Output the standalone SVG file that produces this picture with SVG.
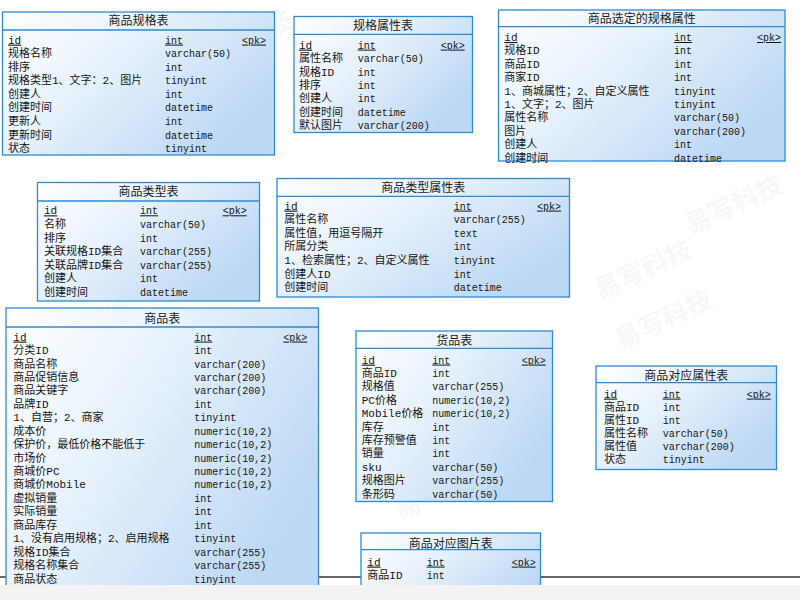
<svg xmlns="http://www.w3.org/2000/svg" width="800" height="600" viewBox="0 0 800 600">
<defs>
<linearGradient id="g" x1="0" y1="0" x2="1" y2="0.6">
<stop offset="0" stop-color="#ffffff"/>
<stop offset="0.45" stop-color="#e6f1fc"/>
<stop offset="1" stop-color="#bcd8f4"/>
</linearGradient>
</defs>
<style>
.box{fill:url(#g);stroke:#2d8bd6;stroke-width:1.3}
.sep{stroke:#2d8bd6;stroke-width:1.3}
.t{font-family:"Noto Sans CJK SC",sans-serif;font-size:12px;fill:#222;text-anchor:middle}
.n{font-family:"Liberation Mono","Noto Sans CJK SC",monospace;font-size:11px;fill:#151515}
.y{font-family:"Liberation Mono",monospace;font-size:10px;fill:#151515}
.u{text-decoration:underline}
.wm{font-family:"Noto Sans CJK SC",sans-serif;font-size:26px;font-weight:bold;fill:#000;opacity:0.028}
.conn{stroke:#333;stroke-width:1.5;fill:none}
</style>
<rect width="800" height="600" fill="#ffffff"/>
<g id="watermarks">
<text class="wm" transform="translate(40,360) rotate(-25)">易写科技</text>
<text class="wm" transform="translate(620,350) rotate(-25)">易写科技</text>
<text class="wm" transform="translate(690,235) rotate(-25)">易写科技</text>
<text class="wm" transform="translate(600,300) rotate(-25)">易写科技</text>
<text class="wm" transform="translate(400,520) rotate(-25)">易写科技</text>
<text class="wm" transform="translate(200,70) rotate(-25)">易写科技</text>
</g>
<g id="connectors">
<line class="conn" x1="0" y1="577" x2="800" y2="577"/>
</g>

<g id="t1">
<rect class="box" x="2.5" y="12" width="272" height="143"/>
<line class="sep" x1="2.5" y1="30" x2="274.5" y2="30"/>
<text class="t" x="138.5" y="25">商品规格表</text>
<text class="n u" x="8" y="43.6">id</text><text class="y u" x="165" y="43.6">int</text><text class="y u" x="242" y="43.6">&lt;pk&gt;</text>
<text class="n" x="8" y="57.2">规格名称</text><text class="y" x="165" y="57.2">varchar(50)</text>
<text class="n" x="8" y="70.7">排序</text><text class="y" x="165" y="70.7">int</text>
<text class="n" x="8" y="84.3">规格类型1、文字：2、图片</text><text class="y" x="165" y="84.3">tinyint</text>
<text class="n" x="8" y="97.8">创建人</text><text class="y" x="165" y="97.8">int</text>
<text class="n" x="8" y="111.4">创建时间</text><text class="y" x="165" y="111.4">datetime</text>
<text class="n" x="8" y="124.9">更新人</text><text class="y" x="165" y="124.9">int</text>
<text class="n" x="8" y="138.5">更新时间</text><text class="y" x="165" y="138.5">datetime</text>
<text class="n" x="8" y="152">状态</text><text class="y" x="165" y="152">tinyint</text>
</g>

<g id="t2">
<rect class="box" x="294" y="16.5" width="178.5" height="116"/>
<line class="sep" x1="294" y1="34.3" x2="472.5" y2="34.3"/>
<text class="t" x="383" y="29.5">规格属性表</text>
<text class="n u" x="299" y="48.6">id</text><text class="y u" x="357.7" y="48.6">int</text><text class="y u" x="440.7" y="48.6">&lt;pk&gt;</text>
<text class="n" x="299" y="62.1">属性名称</text><text class="y" x="357.7" y="62.1">varchar(50)</text>
<text class="n" x="299" y="75.5">规格ID</text><text class="y" x="357.7" y="75.5">int</text>
<text class="n" x="299" y="89">排序</text><text class="y" x="357.7" y="89">int</text>
<text class="n" x="299" y="102.4">创建人</text><text class="y" x="357.7" y="102.4">int</text>
<text class="n" x="299" y="115.9">创建时间</text><text class="y" x="357.7" y="115.9">datetime</text>
<text class="n" x="299" y="129.3">默认图片</text><text class="y" x="357.7" y="129.3">varchar(200)</text>
</g>

<g id="t3">
<rect class="box" x="498.5" y="10" width="286.5" height="151"/>
<line class="sep" x1="498.5" y1="26.7" x2="785" y2="26.7"/>
<text class="t" x="641.7" y="22.8">商品选定的规格属性</text>
<text class="n u" x="504.3" y="41">id</text><text class="y u" x="674" y="41">int</text><text class="y u" x="757" y="41">&lt;pk&gt;</text>
<text class="n" x="504.3" y="54.4">规格ID</text><text class="y" x="674" y="54.4">int</text>
<text class="n" x="504.3" y="67.8">商品ID</text><text class="y" x="674" y="67.8">int</text>
<text class="n" x="504.3" y="81.2">商家ID</text><text class="y" x="674" y="81.2">int</text>
<text class="n" x="504.3" y="94.6">1、商城属性；2、自定义属性</text><text class="y" x="674" y="94.6">tinyint</text>
<text class="n" x="504.3" y="108">1、文字；2、图片</text><text class="y" x="674" y="108">tinyint</text>
<text class="n" x="504.3" y="121.4">属性名称</text><text class="y" x="674" y="121.4">varchar(50)</text>
<text class="n" x="504.3" y="134.8">图片</text><text class="y" x="674" y="134.8">varchar(200)</text>
<text class="n" x="504.3" y="148.2">创建人</text><text class="y" x="674" y="148.2">int</text>
<text class="n" x="504.3" y="161.6">创建时间</text><text class="y" x="674" y="161.6">datetime</text>
</g>

<g id="t4">
<rect class="box" x="37.5" y="182.5" width="222" height="118.5"/>
<line class="sep" x1="37.5" y1="201" x2="259.5" y2="201"/>
<text class="t" x="148.5" y="195.5">商品类型表</text>
<text class="n u" x="44" y="214.3">id</text><text class="y u" x="140" y="214.3">int</text><text class="y u" x="222.7" y="214.3">&lt;pk&gt;</text>
<text class="n" x="44" y="227.9">名称</text><text class="y" x="140" y="227.9">varchar(50)</text>
<text class="n" x="44" y="241.5">排序</text><text class="y" x="140" y="241.5">int</text>
<text class="n" x="44" y="255.1">关联规格ID集合</text><text class="y" x="140" y="255.1">varchar(255)</text>
<text class="n" x="44" y="268.7">关联品牌ID集合</text><text class="y" x="140" y="268.7">varchar(255)</text>
<text class="n" x="44" y="282.3">创建人</text><text class="y" x="140" y="282.3">int</text>
<text class="n" x="44" y="295.9">创建时间</text><text class="y" x="140" y="295.9">datetime</text>
</g>

<g id="t5">
<rect class="box" x="277" y="178.5" width="292.5" height="118.5"/>
<line class="sep" x1="277" y1="196.3" x2="569.5" y2="196.3"/>
<text class="t" x="423.2" y="191.5">商品类型属性表</text>
<text class="n u" x="284.3" y="209.6">id</text><text class="y u" x="453.7" y="209.6">int</text><text class="y u" x="537" y="209.6">&lt;pk&gt;</text>
<text class="n" x="284.3" y="223.2">属性名称</text><text class="y" x="453.7" y="223.2">varchar(255)</text>
<text class="n" x="284.3" y="236.8">属性值，用逗号隔开</text><text class="y" x="453.7" y="236.8">text</text>
<text class="n" x="284.3" y="250.4">所属分类</text><text class="y" x="453.7" y="250.4">int</text>
<text class="n" x="284.3" y="264">1、检索属性；2、自定义属性</text><text class="y" x="453.7" y="264">tinyint</text>
<text class="n" x="284.3" y="277.6">创建人ID</text><text class="y" x="453.7" y="277.6">int</text>
<text class="n" x="284.3" y="291.2">创建时间</text><text class="y" x="453.7" y="291.2">datetime</text>
</g>

<g id="t6">
<rect class="box" x="6" y="308" width="312.5" height="300"/>
<line class="sep" x1="6" y1="327" x2="318.5" y2="327"/>
<text class="t" x="162.2" y="322.5">商品表</text>
<text class="n u" x="13.3" y="340.6">id</text><text class="y u" x="194.3" y="340.6">int</text><text class="y u" x="283.3" y="340.6">&lt;pk&gt;</text>
<text class="n" x="13.3" y="354">分类ID</text><text class="y" x="194.3" y="354">int</text>
<text class="n" x="13.3" y="367.5">商品名称</text><text class="y" x="194.3" y="367.5">varchar(200)</text>
<text class="n" x="13.3" y="380.9">商品促销信息</text><text class="y" x="194.3" y="380.9">varchar(200)</text>
<text class="n" x="13.3" y="394.4">商品关键字</text><text class="y" x="194.3" y="394.4">varchar(200)</text>
<text class="n" x="13.3" y="407.8">品牌ID</text><text class="y" x="194.3" y="407.8">int</text>
<text class="n" x="13.3" y="421.2">1、自营；2、商家</text><text class="y" x="194.3" y="421.2">tinyint</text>
<text class="n" x="13.3" y="434.7">成本价</text><text class="y" x="194.3" y="434.7">numeric(10,2)</text>
<text class="n" x="13.3" y="448.1">保护价，最低价格不能低于</text><text class="y" x="194.3" y="448.1">numeric(10,2)</text>
<text class="n" x="13.3" y="461.6">市场价</text><text class="y" x="194.3" y="461.6">numeric(10,2)</text>
<text class="n" x="13.3" y="475">商城价PC</text><text class="y" x="194.3" y="475">numeric(10,2)</text>
<text class="n" x="13.3" y="488.4">商城价Mobile</text><text class="y" x="194.3" y="488.4">numeric(10,2)</text>
<text class="n" x="13.3" y="501.9">虚拟销量</text><text class="y" x="194.3" y="501.9">int</text>
<text class="n" x="13.3" y="515.3">实际销量</text><text class="y" x="194.3" y="515.3">int</text>
<text class="n" x="13.3" y="528.8">商品库存</text><text class="y" x="194.3" y="528.8">int</text>
<text class="n" x="13.3" y="542.2">1、没有启用规格；2、启用规格</text><text class="y" x="194.3" y="542.2">tinyint</text>
<text class="n" x="13.3" y="555.6">规格ID集合</text><text class="y" x="194.3" y="555.6">varchar(255)</text>
<text class="n" x="13.3" y="569.1">规格名称集合</text><text class="y" x="194.3" y="569.1">varchar(255)</text>
<text class="n" x="13.3" y="582.5">商品状态</text><text class="y" x="194.3" y="582.5">tinyint</text>
</g>

<g id="t7">
<rect class="box" x="356" y="331" width="196.5" height="170.5"/>
<line class="sep" x1="356" y1="348.3" x2="552.5" y2="348.3"/>
<text class="t" x="454.2" y="344.5">货品表</text>
<text class="n u" x="361.7" y="363.6">id</text><text class="y u" x="432.3" y="363.6">int</text><text class="y u" x="521.7" y="363.6">&lt;pk&gt;</text>
<text class="n" x="361.7" y="377">商品ID</text><text class="y" x="432.3" y="377">int</text>
<text class="n" x="361.7" y="390.4">规格值</text><text class="y" x="432.3" y="390.4">varchar(255)</text>
<text class="n" x="361.7" y="403.8">PC价格</text><text class="y" x="432.3" y="403.8">numeric(10,2)</text>
<text class="n" x="361.7" y="417.2">Mobile价格</text><text class="y" x="432.3" y="417.2">numeric(10,2)</text>
<text class="n" x="361.7" y="430.6">库存</text><text class="y" x="432.3" y="430.6">int</text>
<text class="n" x="361.7" y="444">库存预警值</text><text class="y" x="432.3" y="444">int</text>
<text class="n" x="361.7" y="457.4">销量</text><text class="y" x="432.3" y="457.4">int</text>
<text class="n" x="361.7" y="470.8">sku</text><text class="y" x="432.3" y="470.8">varchar(50)</text>
<text class="n" x="361.7" y="484.2">规格图片</text><text class="y" x="432.3" y="484.2">varchar(255)</text>
<text class="n" x="361.7" y="497.6">条形码</text><text class="y" x="432.3" y="497.6">varchar(50)</text>
</g>

<g id="t8">
<rect class="box" x="596" y="366" width="180.5" height="103.5"/>
<line class="sep" x1="596" y1="382.7" x2="776.5" y2="382.7"/>
<text class="t" x="686.2" y="379.5">商品对应属性表</text>
<text class="n u" x="604" y="397.6">id</text><text class="y u" x="662.7" y="397.6">int</text><text class="y u" x="746.7" y="397.6">&lt;pk&gt;</text>
<text class="n" x="604" y="410.7">商品ID</text><text class="y" x="662.7" y="410.7">int</text>
<text class="n" x="604" y="423.8">属性ID</text><text class="y" x="662.7" y="423.8">int</text>
<text class="n" x="604" y="436.9">属性名称</text><text class="y" x="662.7" y="436.9">varchar(50)</text>
<text class="n" x="604" y="450">属性值</text><text class="y" x="662.7" y="450">varchar(200)</text>
<text class="n" x="604" y="463.1">状态</text><text class="y" x="662.7" y="463.1">tinyint</text>
</g>

<g id="t9">
<rect class="box" x="361" y="533" width="179.5" height="80"/>
<line class="sep" x1="361" y1="549.7" x2="540.5" y2="549.7"/>
<text class="t" x="450.7" y="547.5">商品对应图片表</text>
<text class="n u" x="367.3" y="565.6">id</text><text class="y u" x="426.7" y="565.6">int</text><text class="y u" x="511.7" y="565.6">&lt;pk&gt;</text>
<text class="n" x="367.3" y="579">商品ID</text><text class="y" x="426.7" y="579">int</text>
</g>

<rect x="0" y="585" width="800" height="15" fill="#f3f3f3"/>
</svg>
